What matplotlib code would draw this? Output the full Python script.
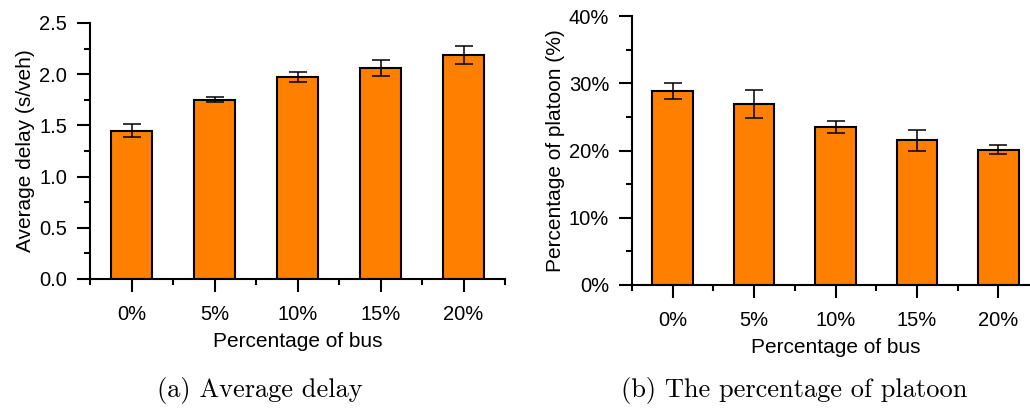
import matplotlib
matplotlib.use("Agg")
import matplotlib.pyplot as plt
from matplotlib.ticker import MultipleLocator, FuncFormatter, FixedLocator

# data
bus_share = ["0%", "5%", "10%", "15%", "20%"]
delay = [1.45, 1.75, 1.97, 2.06, 2.19]
delay_err = [0.065, 0.025, 0.05, 0.08, 0.088]
platoon = [28.85, 26.9, 23.5, 21.5, 20.1]
platoon_err = [1.2, 2.1, 0.95, 1.6, 0.67]

plt.rcParams["font.family"] = ["Liberation Sans", "DejaVu Sans"]
bar_color = "#FF8000"
lw = 1.5

fig = plt.figure(figsize=(10.3, 4.08), dpi=100)
ax1 = fig.add_axes([90 / 1030, 1 - 279 / 408, 415 / 1030, 256 / 408])
ax2 = fig.add_axes([632 / 1030, 1 - 285 / 408, 407 / 1030, 269 / 408])


def style(ax, values, errs, ylabel):
    x = range(len(values))
    ax.bar(x, values, width=0.5, color=bar_color, edgecolor="black", linewidth=lw, zorder=2)
    ax.errorbar(x, values, yerr=errs, fmt="none", ecolor="black", elinewidth=1.1,
                capsize=6.5, capthick=1.1, zorder=3)
    ax.set_xlim(-0.5, 4.5)
    ax.set_xticks(list(x))
    ax.set_xticklabels(bus_share)
    ax.xaxis.set_minor_locator(FixedLocator([-0.5, 0.5, 1.5, 2.5, 3.5, 4.5]))
    for s in ["top", "right"]:
        ax.spines[s].set_visible(False)
    for s in ["left", "bottom"]:
        ax.spines[s].set_linewidth(lw)
    ax.tick_params(which="major", direction="out", length=9.5, width=lw, labelsize=14.5, pad=7)
    ax.tick_params(which="minor", direction="out", length=4.5, width=lw)
    ax.tick_params(axis="x", which="major", pad=9)
    ax.set_xlabel("Percentage of bus", fontsize=15, labelpad=6)
    ax.set_ylabel(ylabel, fontsize=15, labelpad=3)


style(ax1, delay, delay_err, "Average delay (s/veh)")
ax1.set_ylim(0, 2.5)
ax1.yaxis.set_major_locator(MultipleLocator(0.5))
ax1.yaxis.set_minor_locator(MultipleLocator(0.25))
ax1.yaxis.set_major_formatter(FuncFormatter(lambda v, p: f"{v:.1f}"))

style(ax2, platoon, platoon_err, "Percentage of platoon (%)")
ax2.set_ylim(0, 40)
ax2.yaxis.set_major_locator(MultipleLocator(10))
ax2.yaxis.set_minor_locator(MultipleLocator(5))
ax2.yaxis.set_major_formatter(FuncFormatter(lambda v, p: f"{v:.0f}%"))

fig.text(260 / 1030, 1 - 390 / 408, "(a) Average delay", family="cmr10",
         fontsize=19, ha="center", va="center")
fig.text(794 / 1030, 1 - 390 / 408, "(b) The percentage of platoon", family="cmr10",
         fontsize=19, ha="center", va="center")

fig.savefig("out.png", dpi=100)
plt.close()
